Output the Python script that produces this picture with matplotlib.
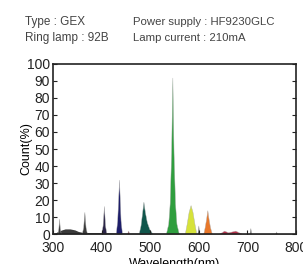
import matplotlib.pyplot as plt

plt.rcParams['font.family'] = ['Liberation Sans', 'DejaVu Sans']

# low continuum under the lines
base_wl = [300, 306, 310, 318, 325, 335, 345, 352, 360, 380, 400, 430, 460, 480, 520, 600, 700, 800]
base_cnt = [0.4, 0.8, 1.5, 2.4, 3.0, 3.0, 2.4, 1.5, 1.0, 0.8, 0.8, 0.6, 0.5, 0.5, 0.4, 0.3, 0.3, 0.3]

# emission lines: wavelengths, counts, colour
line_313_wl = [309, 311, 312.5, 314, 316]
line_313_cnt = [0, 3.5, 9, 3.5, 0]
line_365_wl = [359, 362, 364.5, 367, 370]
line_365_cnt = [0, 4, 13, 4, 0]
line_405_wl = [399, 402, 404.7, 407, 410]
line_405_cnt = [0, 5, 16.5, 5, 0]
line_436_wl = [429, 432, 435.8, 439, 442]
line_436_cnt = [0, 8, 32, 8, 0]
line_455_wl = [452, 454.5, 457]
line_455_cnt = [0, 2, 0]
line_488_wl = [476, 480, 483, 486, 489, 493, 498, 505]
line_488_cnt = [0, 5, 12, 19, 13, 7, 3, 0]
line_546_wl = [532, 537, 540, 543, 545.5, 548, 551, 554, 559]
line_546_cnt = [0, 6, 18, 48, 92, 48, 18, 6, 0]
line_580_wl = [571, 575, 579, 583, 587, 591, 595]
line_580_cnt = [0, 6, 13, 17, 13, 6, 0]
line_600_wl = [597, 599, 601]
line_600_cnt = [0, 5, 0]
line_612_wl = [609, 612, 615, 617.5, 620, 623, 627]
line_612_cnt = [0, 4, 9, 14, 9, 4, 0]
line_red_wl = [640, 648, 652, 660, 668, 675, 682, 690]
line_red_cnt = [0, 1.2, 2, 1, 1.5, 2, 1, 0]
line_707_wl = [704, 706, 708]
line_707_cnt = [0, 3.5, 0]
line_760_wl = [757, 759, 761]
line_760_cnt = [0, 1.5, 0]

lines = [
    (line_313_wl, line_313_cnt, '#3a3a3a'),
    (line_365_wl, line_365_cnt, '#3c3c3c'),
    (line_405_wl, line_405_cnt, '#2b2548'),
    (line_436_wl, line_436_cnt, '#1e1e6a'),
    (line_455_wl, line_455_cnt, '#8a3040'),
    (line_488_wl, line_488_cnt, '#11564c'),
    (line_546_wl, line_546_cnt, '#2f9e3e'),
    (line_580_wl, line_580_cnt, '#d6e23a'),
    (line_600_wl, line_600_cnt, '#4a4a4a'),
    (line_612_wl, line_612_cnt, '#e8772a'),
    (line_red_wl, line_red_cnt, '#b8304a'),
    (line_707_wl, line_707_cnt, '#555555'),
    (line_760_wl, line_760_cnt, '#666666'),
]

fig = plt.figure(figsize=(3.03, 2.64), dpi=100)
ax = fig.add_axes([0.175, 0.1136, 0.802, 0.644])

ax.fill_between(base_wl, base_cnt, color='#3a3a3a', linewidth=0)
for wl, cnt, col in lines:
    ax.fill_between(wl, cnt, color=col, linewidth=0.3, edgecolor='#b0b0b0')

ax.set_xlim(300, 800)
ax.set_ylim(0, 100)
ax.set_xticks([300, 400, 500, 600, 700, 800])
ax.set_yticks(range(0, 101, 10))
ax.tick_params(direction='in', length=3, width=0.8, labelsize=10, pad=5,
               right=True, colors='#222222')
ax.tick_params(axis='y', pad=2)
for s in ax.spines.values():
    s.set_linewidth(1.2)
    s.set_color('#222222')

ax.set_ylabel('Count(%)', fontsize=9, labelpad=-4)
ax.set_xlabel('Wavelength(nm)', fontsize=9, labelpad=2)

fig.text(0.083, 0.915, 'Type : GEX', fontsize=8.5, color='#444444', va='center')
fig.text(0.083, 0.857, 'Ring lamp : 92B', fontsize=8.5, color='#444444', va='center')
fig.text(0.44, 0.915, 'Power supply : HF9230GLC', fontsize=8.2, color='#444444', va='center')
fig.text(0.44, 0.857, 'Lamp current : 210mA', fontsize=8.2, color='#444444', va='center')

plt.savefig('out.png', dpi=100)
plt.close()
